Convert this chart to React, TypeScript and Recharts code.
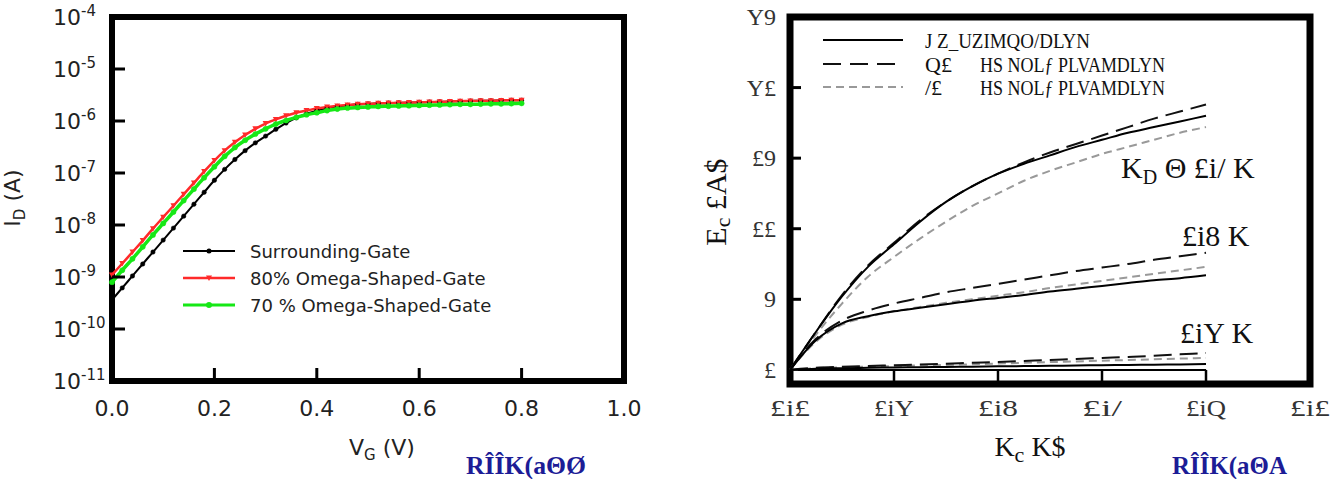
import React from 'react';
import { LineChart, Line, XAxis, YAxis, ReferenceArea, ReferenceLine } from 'recharts';

// ---- left panel: log10(I_D) vs V_G ----
const vgLeft = [
  0, 0.02, 0.04, 0.06, 0.08, 0.1, 0.12, 0.14, 0.16, 0.18, 0.2, 0.22, 0.24, 0.26, 0.28, 0.3, 0.32, 0.34, 0.36, 0.38,
  0.4, 0.42, 0.44, 0.46, 0.48, 0.5, 0.52, 0.54, 0.56, 0.58, 0.6, 0.62, 0.64, 0.66, 0.68, 0.7, 0.72, 0.74, 0.76, 0.78, 0.8,
];
const surroundingLog = [
  -9.44, -9.21, -8.98, -8.75, -8.52, -8.29, -8.06, -7.83, -7.6, -7.37, -7.14, -6.93, -6.74, -6.57, -6.42, -6.29, -6.16, -6.04, -5.94, -5.86,
  -5.8, -5.75, -5.72, -5.7, -5.68, -5.67, -5.66, -5.655, -5.65, -5.645, -5.64, -5.635, -5.63, -5.625, -5.62, -5.615, -5.61, -5.61, -5.605, -5.6, -5.6,
];
const omega80Log = [
  -8.96, -8.74, -8.52, -8.3, -8.07, -7.85, -7.63, -7.41, -7.19, -6.97, -6.76, -6.57, -6.41, -6.27, -6.15, -6.05, -5.97, -5.9, -5.84, -5.8,
  -5.76, -5.73, -5.71, -5.69, -5.68, -5.67, -5.66, -5.655, -5.65, -5.645, -5.64, -5.635, -5.63, -5.625, -5.62, -5.615, -5.61, -5.61, -5.605, -5.6, -5.6,
];
const omega70Log = [
  -9.1, -8.87, -8.65, -8.42, -8.19, -7.97, -7.75, -7.53, -7.31, -7.09, -6.88, -6.68, -6.51, -6.37, -6.25, -6.15, -6.06, -5.99, -5.93, -5.88,
  -5.84, -5.8, -5.77, -5.75, -5.74, -5.73, -5.72, -5.715, -5.71, -5.705, -5.7, -5.695, -5.69, -5.685, -5.68, -5.68, -5.675, -5.67, -5.67, -5.665, -5.66,
];
const yTicksLeft = [-11, -10, -9, -8, -7, -6, -5, -4];
const xTicksLeft = [0, 0.2, 0.4, 0.6, 0.8, 1.0];
const legendLeft = ['Surrounding-Gate', '80% Omega-Shaped-Gate', '70 % Omega-Shaped-Gate'];

// ---- right panel ----
const vgRight = [0, 0.05, 0.1, 0.15, 0.2, 0.25, 0.3, 0.35, 0.4, 0.45, 0.5, 0.55, 0.6, 0.65, 0.7, 0.75, 0.8];
const sgHigh = [0, 2.7, 5.2, 7.3, 8.9, 10.5, 11.9, 13.0, 13.9, 14.6, 15.2, 15.8, 16.3, 16.8, 17.2, 17.6, 18.0];
const o80High = [0, 2.7, 5.3, 7.4, 9.0, 10.6, 11.9, 13.0, 13.9, 14.7, 15.4, 16.0, 16.6, 17.2, 17.8, 18.3, 18.8];
const o70High = [0, 2.5, 4.7, 6.6, 8.0, 9.3, 10.5, 11.6, 12.5, 13.4, 14.1, 14.7, 15.3, 15.8, 16.3, 16.8, 17.2];
const sgMid = [0, 2.1, 3.3, 3.8, 4.15, 4.4, 4.65, 4.9, 5.1, 5.3, 5.55, 5.75, 5.95, 6.15, 6.35, 6.5, 6.7];
const o80Mid = [0, 2.2, 3.5, 4.2, 4.7, 5.1, 5.5, 5.8, 6.1, 6.4, 6.7, 7.0, 7.25, 7.5, 7.8, 8.05, 8.3];
const o70Mid = [0, 2.0, 3.2, 3.75, 4.15, 4.45, 4.75, 5.0, 5.25, 5.5, 5.8, 6.05, 6.3, 6.55, 6.8, 7.05, 7.3];
const sgLow = [0, 0.08, 0.12, 0.15, 0.17, 0.19, 0.21, 0.23, 0.25, 0.27, 0.29, 0.31, 0.33, 0.35, 0.37, 0.39, 0.41];
const o80Low = [0, 0.15, 0.22, 0.28, 0.33, 0.38, 0.44, 0.5, 0.56, 0.63, 0.7, 0.78, 0.85, 0.92, 1.0, 1.1, 1.2];
const o70Low = [0, 0.12, 0.18, 0.23, 0.27, 0.31, 0.35, 0.4, 0.45, 0.5, 0.55, 0.6, 0.65, 0.7, 0.75, 0.8, 0.85];
const yTicksRight = [0, 5, 10, 15, 20, 25];
const yTickTextRight = ['£', '9', '££', '£9', 'Y£', 'Y9'];
const xTicksRight = [0, 0.2, 0.4, 0.6, 0.8, 1.0];
const xTickTextRight = ['£i£', '£iY', '£i8', '£i/', '£iQ', '£i£'];
const innerTicksRight = [0.2, 0.4, 0.6, 0.8];

const leftData = vgLeft.map((v, i) => ({ vg: v, sg: surroundingLog[i], o80: omega80Log[i], o70: omega70Log[i] }));
const rightData = vgRight.map((v, i) => ({
  vg: v,
  sgH: sgHigh[i], o80H: o80High[i], o70H: o70High[i],
  sgM: sgMid[i], o80M: o80Mid[i], o70M: o70Mid[i],
  sgL: sgLow[i], o80L: o80Low[i], o70L: o70Low[i],
}));

const SANS = 'DejaVu Sans, sans-serif';
const SERIF = 'Liberation Serif, serif';
const RED = '#ff2a2a';
const GREEN = '#16e816';

const LeftYTick = ({ x, y, payload }: any) => (
  <g>
    {payload.value > -11 && payload.value < -4 && (
      <line x1={x} x2={x + 13} y1={y} y2={y} stroke="#000" strokeWidth={3} />
    )}
    <text x={x - 59} y={y + 8} fontSize={22} fill="#222" fontFamily={SANS}>
      10<tspan dy={-9} fontSize={15}>{payload.value}</tspan>
    </text>
  </g>
);

const LeftXTick = ({ x, y, payload }: any) => (
  <g>
    {payload.value > 0 && payload.value < 1 && (
      <line x1={x} x2={x} y1={y} y2={y - 13} stroke="#000" strokeWidth={3} />
    )}
    <text x={x} y={y + 35} textAnchor="middle" fontSize={22} fill="#222" fontFamily={SANS}>
      {payload.value.toFixed(1)}
    </text>
  </g>
);

const RightYTick = ({ x, y, payload, index }: any) => (
  <g>
    {payload.value > 0 && payload.value < 25 && (
      <line x1={x} x2={x + 11} y1={y} y2={y} stroke="#000" strokeWidth={3} />
    )}
    <text x={x - 14} y={y + 8} textAnchor="end" fontSize={24} fill="#333" fontFamily={SERIF}>
      {yTickTextRight[index]}
    </text>
  </g>
);

const RightXTick = ({ x, y, index }: any) => (
  <text x={x} y={y + 32} textAnchor="middle" fontSize={24} fill="#333" fontFamily={SERIF}
    textLength={40} lengthAdjust="spacingAndGlyphs">
    {xTickTextRight[index]}
  </text>
);

const TriDown = ({ cx, cy }: any) =>
  cx == null ? null : <path d={`M${cx - 3},${cy - 2.5}L${cx + 3},${cy - 2.5}L${cx},${cy + 3}Z`} fill={RED} />;

export default function App() {
  return (
    <div style={{ position: 'absolute', left: 0, top: 0, width: 1331, height: 479, background: '#fff', overflow: 'hidden' }}>
      <div style={{ position: 'absolute', left: 0, top: 0 }}>
        <LineChart width={660} height={479} data={leftData} margin={{ top: 17, right: 36, bottom: 28, left: 52 }}>
          <XAxis dataKey="vg" type="number" domain={[0, 1]} ticks={xTicksLeft} tick={<LeftXTick />}
            tickSize={0} tickMargin={0} axisLine={false} tickLine={false} height={70} />
          <YAxis type="number" domain={[-11, -4]} ticks={yTicksLeft} tick={<LeftYTick />} allowDataOverflow
            tickSize={0} tickMargin={0} axisLine={false} tickLine={false} width={60} />
          <Line dataKey="sg" type="monotone" stroke="#000" strokeWidth={2}
            dot={{ r: 2.2, fill: '#000', stroke: '#000', strokeWidth: 0.5 }} isAnimationActive={false} />
          <Line dataKey="o80" type="monotone" stroke={RED} strokeWidth={2.5}
            dot={<TriDown />} isAnimationActive={false} />
          <Line dataKey="o70" type="monotone" stroke={GREEN} strokeWidth={3.5}
            dot={{ r: 2.6, fill: GREEN, stroke: GREEN, strokeWidth: 0.5 }} isAnimationActive={false} />
          <ReferenceArea x1={0} x2={1} y1={-11} y2={-4} fill="none" fillOpacity={0} stroke="#000" strokeWidth={6} ifOverflow="visible" />
        </LineChart>
      </div>

      <div style={{ position: 'absolute', left: 660, top: 0 }}>
        <LineChart width={671} height={479} data={rightData} margin={{ top: 17, right: 21, bottom: 25, left: 70 }}>
          <XAxis dataKey="vg" type="number" domain={[0, 1]} ticks={xTicksRight} tick={<RightXTick />}
            tickSize={0} tickMargin={0} axisLine={false} tickLine={false} height={70} />
          <YAxis type="number" domain={[-1, 25]} ticks={yTicksRight} tick={<RightYTick />}
            tickSize={0} tickMargin={0} axisLine={false} tickLine={false} width={60} />
          <ReferenceLine segment={[{ x: 0, y: 0 }, { x: 0.8, y: 0 }]} stroke="#000" strokeWidth={2} />
          {innerTicksRight.map((t) => (
            <ReferenceLine key={t} segment={[{ x: t, y: -1 }, { x: t, y: 0 }]} stroke="#000" strokeWidth={2.5} />
          ))}
          <Line dataKey="o70H" type="monotone" stroke="#999" strokeWidth={2} strokeDasharray="8 5" dot={false} isAnimationActive={false} />
          <Line dataKey="o70M" type="monotone" stroke="#999" strokeWidth={2} strokeDasharray="8 5" dot={false} isAnimationActive={false} />
          <Line dataKey="o70L" type="monotone" stroke="#999" strokeWidth={2} strokeDasharray="8 5" dot={false} isAnimationActive={false} />
          <Line dataKey="o80H" type="monotone" stroke="#111" strokeWidth={2} strokeDasharray="18 8" dot={false} isAnimationActive={false} />
          <Line dataKey="o80M" type="monotone" stroke="#111" strokeWidth={2} strokeDasharray="18 8" dot={false} isAnimationActive={false} />
          <Line dataKey="o80L" type="monotone" stroke="#111" strokeWidth={2} strokeDasharray="18 8" dot={false} isAnimationActive={false} />
          <Line dataKey="sgH" type="monotone" stroke="#000" strokeWidth={2} dot={false} isAnimationActive={false} />
          <Line dataKey="sgM" type="monotone" stroke="#000" strokeWidth={2} dot={false} isAnimationActive={false} />
          <Line dataKey="sgL" type="monotone" stroke="#000" strokeWidth={2} dot={false} isAnimationActive={false} />
          <ReferenceArea x1={0} x2={1} y1={-1} y2={25} fill="none" fillOpacity={0} stroke="#000" strokeWidth={7} ifOverflow="visible" />
        </LineChart>
      </div>

      <svg width={1331} height={479} style={{ position: 'absolute', left: 0, top: 0, pointerEvents: 'none' }}>
        {/* left panel titles */}
        <text transform="rotate(-90 20 198)" x={20} y={198} textAnchor="middle" fontSize={22} fill="#222" fontFamily={SANS}>
          I<tspan dy={5} fontSize={15}>D</tspan><tspan dy={-5}> (A)</tspan>
        </text>
        <text x={382} y={455} textAnchor="middle" fontSize={22} fill="#222" fontFamily={SANS}>
          V<tspan dy={5} fontSize={15}>G</tspan><tspan dy={-5}> (V)</tspan>
        </text>
        {/* left legend */}
        <line x1={183} x2={235} y1={251} y2={251} stroke="#000" strokeWidth={2} />
        <circle cx={209} cy={251} r={2.5} fill="#000" />
        <line x1={183} x2={235} y1={278} y2={278} stroke={RED} strokeWidth={2.5} />
        <path d="M206,275.5L212,275.5L209,281Z" fill={RED} />
        <line x1={183} x2={235} y1={305} y2={305} stroke={GREEN} strokeWidth={3} />
        <circle cx={209} cy={305} r={3} fill={GREEN} />
        {legendLeft.map((t, i) => (
          <text key={t} x={250} y={258 + i * 27} fontSize={18} fill="#222" fontFamily={SANS}>{t}</text>
        ))}
        <text x={466} y={474} fontSize={25} fontWeight="bold" fill="#1c1c96" fontFamily={SERIF}
          textLength={120} lengthAdjust="spacingAndGlyphs">RÎÎK(aΘØ</text>

        {/* right panel titles */}
        <text transform="rotate(-90 726 202)" x={726} y={202} textAnchor="middle" fontSize={30} fill="#111" fontFamily={SERIF}>
          E<tspan dy={4} fontSize={22}>c</tspan><tspan dy={-4}>  £A$</tspan>
        </text>
        <text x={1030} y={456} textAnchor="middle" fontSize={28} fill="#111" fontFamily={SERIF}>
          K<tspan dy={6} fontSize={22}>c</tspan><tspan dy={-6}>  K$</tspan>
        </text>
        {/* right legend */}
        <line x1={823} x2={903} y1={40} y2={40} stroke="#000" strokeWidth={2} />
        <line x1={823} x2={903} y1={64} y2={64} stroke="#111" strokeWidth={2} strokeDasharray="18 9" />
        <line x1={823} x2={903} y1={87} y2={87} stroke="#999" strokeWidth={2} strokeDasharray="8 5" />
        <text x={925} y={48} fontSize={22} fill="#111" fontFamily={SERIF} textLength={165} lengthAdjust="spacingAndGlyphs">J Z_UZIMQO/DLYN</text>
        <text x={925} y={72} fontSize={22} fill="#111" fontFamily={SERIF}>Q£</text>
        <text x={980} y={72} fontSize={22} fill="#111" fontFamily={SERIF} textLength={185} lengthAdjust="spacingAndGlyphs">HS NOLƒ PLVAMDLYN</text>
        <text x={925} y={95} fontSize={22} fill="#111" fontFamily={SERIF}>/£</text>
        <text x={980} y={95} fontSize={22} fill="#111" fontFamily={SERIF} textLength={185} lengthAdjust="spacingAndGlyphs">HS NOLƒ PLVAMDLYN</text>
        {/* curve annotations */}
        <text x={1121} y={178} fontSize={30} fill="#111" fontFamily={SERIF}>
          K<tspan dy={6} fontSize={20}>D</tspan><tspan dy={-6}> Θ £i/ K</tspan>
        </text>
        <text x={1182} y={246} fontSize={30} fill="#111" fontFamily={SERIF}>£i8 K</text>
        <text x={1180} y={343} fontSize={30} fill="#111" fontFamily={SERIF}>£iY K</text>
        <text x={1172} y={474} fontSize={25} fontWeight="bold" fill="#1c1c96" fontFamily={SERIF}
          textLength={115} lengthAdjust="spacingAndGlyphs">RÎÎK(aΘA</text>
      </svg>
    </div>
  );
}
